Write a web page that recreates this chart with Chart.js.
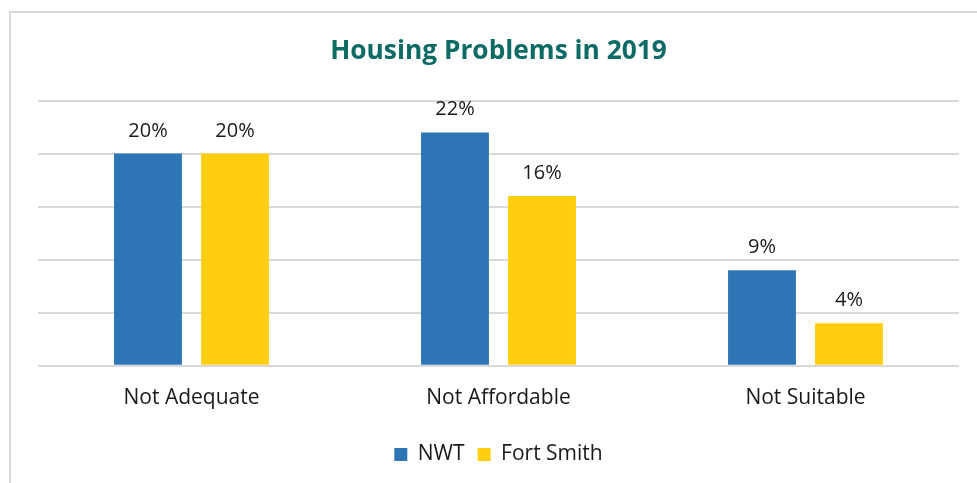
<!DOCTYPE html>
<html>
<head>
<meta charset="utf-8">
<script src="https://cdn.jsdelivr.net/npm/chart.js@4.4.0/dist/chart.umd.min.js"></script>
<style>
  html, body { margin: 0; padding: 0; background: #ffffff; overflow: hidden; width: 977px; height: 483px; }
  #frame { position: absolute; left: 9px; top: 11px; width: 975px; height: 480px; border: 2px solid #d9d9d9; background: #fff; }
  #c { display: block; }
</style>
</head>
<body>
<div id="frame"><canvas id="c" width="975" height="480"></canvas></div>
<script>
const categories = ["Not Adequate", "Not Affordable", "Not Suitable"];
const seriesNames = ["NWT", "Fort Smith"];
const nwtValues = [20, 22, 9];
const fortSmithValues = [20, 16, 4];
const yTicks = [0, 5, 10, 15, 20, 25];

const dataLabelPlugin = {
  id: 'dataLabels',
  afterDatasetsDraw(chart) {
    const ctx = chart.ctx;
    ctx.save();
    ctx.font = '20px "Open Sans"';
    ctx.fillStyle = '#1a1a1a';
    ctx.textAlign = 'center';
    ctx.textBaseline = 'alphabetic';
    chart.data.datasets.forEach((ds, i) => {
      const meta = chart.getDatasetMeta(i);
      meta.data.forEach((bar, j) => {
        ctx.fillText(ds.data[j] + '%', bar.x, bar.y - 17);
      });
    });
    ctx.restore();
  }
};

new Chart(document.getElementById('c'), {
  type: 'bar',
  data: {
    labels: categories,
    datasets: [
      { label: seriesNames[0], data: nwtValues, backgroundColor: '#2E75B6', categoryPercentage: 0.567, barPercentage: 0.78 },
      { label: seriesNames[1], data: fortSmithValues, backgroundColor: '#FFCF0F', categoryPercentage: 0.567, barPercentage: 0.78 }
    ]
  },
  options: {
    responsive: false,
    animation: false,
    layout: { padding: { left: 27, right: 27, top: 11, bottom: 18 } },
    plugins: {
      title: {
        display: true,
        text: 'Housing Problems in 2019',
        color: '#0D6B66',
        font: { family: 'Open Sans', size: 26.3, weight: 'bold' },
        padding: { top: 12, bottom: 33 }
      },
      legend: {
        display: true,
        position: 'bottom',
        labels: {
          boxWidth: 13,
          boxHeight: 13,
          padding: 13,
          color: '#1a1a1a',
          font: { family: 'Open Sans', size: 21 }
        }
      },
      tooltip: { enabled: false }
    },
    scales: {
      x: {
        grid: { display: false, drawTicks: false },
        border: { display: false },
        ticks: { color: '#1a1a1a', font: { family: 'Open Sans', size: 21 }, padding: 20 }
      },
      y: {
        min: yTicks[0],
        max: yTicks[yTicks.length - 1],
        afterBuildTicks(scale) { scale.ticks = yTicks.map(v => ({ value: v })); },
        grid: { color: '#d9d9d9', lineWidth: 2, drawTicks: false },
        border: { display: false },
        ticks: { display: false }
      }
    }
  },
  plugins: [dataLabelPlugin]
});
</script>
</body>
</html>
